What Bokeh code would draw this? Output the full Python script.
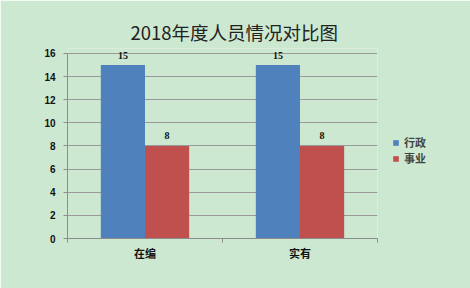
import numpy as np
from bokeh.plotting import figure
from bokeh.models import ColumnDataSource, FixedTicker, Legend, LegendItem, Range1d, LabelSet
from bokeh.embed import file_html
from bokeh.resources import INLINE

categories = ["在编", "实有"]
series_names = ["行政", "事业"]
xingzheng = [15, 15]
shiye = [8, 8]
y_ticks = [0, 2, 4, 6, 8, 10, 12, 14, 16]
colors = ["#4f81bd", "#c0504d"]
bg = "#cde8d0"

centers = np.arange(len(categories)) + 0.5
bw = 0.285
y_max = y_ticks[-1]

p = figure(frame_width=310, frame_height=190, output_backend="svg", toolbar_location=None,
           x_range=Range1d(0, len(categories)), y_range=Range1d(0, y_max + 0.43),
           min_border_left=67, min_border_right=93, min_border_top=48, min_border_bottom=50,
           title="2018年度人员情况对比图")
p.background_fill_color = bg
p.border_fill_color = bg
p.outline_line_color = None

p.title.align = "left"
p.title.vertical_align = "middle"
p.title.text_font = "Noto Sans CJK SC"
p.title.text_font_size = "18.5px"
p.title.text_font_style = "normal"
p.title.text_color = "#222222"
p.title.standoff = 6
p.title.offset = 63

src = ColumnDataSource(dict(x1=centers - bw / 2, x2=centers + bw / 2, a=xingzheng, b=shiye,
                            la=[str(v) for v in xingzheng], lb=[str(v) for v in shiye]))
r1 = p.vbar(x="x1", top="a", width=bw, source=src, fill_color=colors[0], line_color=None)
r2 = p.vbar(x="x2", top="b", width=bw, source=src, fill_color=colors[1], line_color=None)

for xc, yc, tc in (("x1", "a", "la"), ("x2", "b", "lb")):
    p.add_layout(LabelSet(x=xc, y=yc, text=tc, source=src, text_align="center",
                          text_baseline="middle", y_offset=10, text_font_size="10px",
                          text_font_style="bold", text_font="Liberation Sans", text_color="#111111"))

# axes
p.xaxis.ticker = FixedTicker(ticks=list(centers), minor_ticks=list(range(len(categories) + 1)))
p.xaxis.major_label_overrides = {float(c): categories[i] for i, c in enumerate(centers)}
p.xaxis.major_tick_line_color = None
p.xaxis.major_tick_out = 0
p.xaxis.major_tick_in = 0
p.xaxis.minor_tick_out = 4
p.xaxis.minor_tick_in = 0
p.xaxis.minor_tick_line_color = "#8c8c8c"
p.xaxis.axis_line_color = "#8c8c8c"
p.xaxis.major_label_text_font = "Noto Sans CJK SC"
p.xaxis.major_label_text_font_size = "11px"
p.xaxis.major_label_text_font_style = "bold"
p.xaxis.major_label_standoff = 2
p.xaxis.major_label_text_color = "#111111"

p.yaxis.ticker = FixedTicker(ticks=y_ticks)
p.yaxis.bounds = (0, y_max)
p.yaxis.minor_tick_line_color = None
p.yaxis.major_tick_out = 4
p.yaxis.major_tick_in = 0
p.yaxis.major_tick_line_color = "#8c8c8c"
p.yaxis.axis_line_color = "#8c8c8c"
p.yaxis.major_label_text_font = "Liberation Sans"
p.yaxis.major_label_text_font_size = "10px"
p.yaxis.major_label_text_font_style = "bold"
p.yaxis.major_label_standoff = 8
p.yaxis.major_label_text_color = "#111111"

p.xgrid.grid_line_color = None
p.ygrid.ticker = FixedTicker(ticks=y_ticks)
p.ygrid.grid_line_color = "#9a9a9a"
p.ygrid.grid_line_width = 1

legend = Legend(items=[LegendItem(label=series_names[0], renderers=[r1]),
                       LegendItem(label=series_names[1], renderers=[r2])],
                location=(15, 72), background_fill_alpha=0, border_line_color=None,
                label_text_font="Noto Sans CJK SC", label_text_font_size="11px",
                label_text_font_style="bold", glyph_width=7, glyph_height=7,
                spacing=0, padding=8, margin=0, label_standoff=5)
p.add_layout(legend, "right")

open("out.html", "w").write(file_html(p, INLINE))
